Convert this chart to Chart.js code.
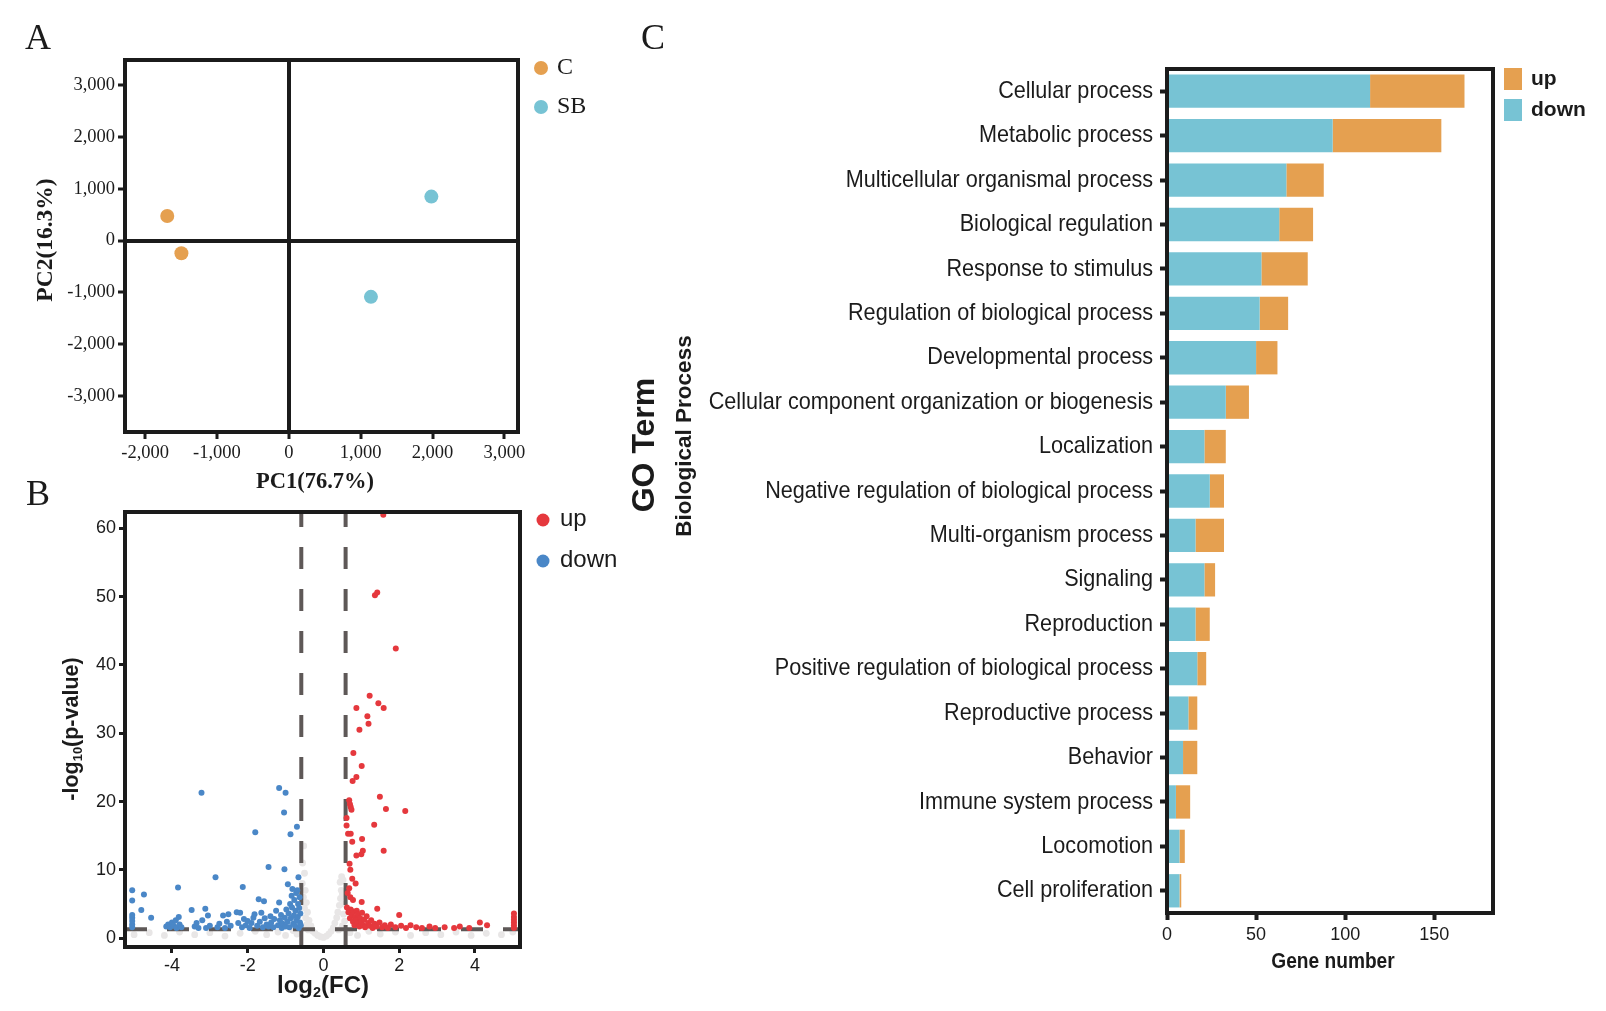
<!DOCTYPE html>
<html>
<head>
<meta charset="utf-8">
<title>PCA, volcano plot and GO terms</title>
<script src="https://cdn.jsdelivr.net/npm/chart.js@4.4.1/dist/chart.umd.min.js"></script>
<style>
  html, body { margin: 0; padding: 0; background: #fff; }
  #wrap { position: relative; width: 1606px; height: 1011px; }
  #wrap canvas { position: absolute; left: 0; top: 0; }
</style>
</head>
<body>
<div id="wrap">
  <canvas id="pcaChart" width="1606" height="1011"></canvas>
  <canvas id="volcanoChart" width="1606" height="1011"></canvas>
  <canvas id="goChart" width="1606" height="1011"></canvas>
</div>
<script>
// ---------- A: PCA ----------
const pcaGroups = ['C', 'SB'];
const pcaC = [[-1692, 476], [-1495, -245]];
const pcaSB = [[1984, 850], [1143, -1088]];
const pcaXTicks = [-2000, -1000, 0, 1000, 2000, 3000];
const pcaYTicks = [-3000, -2000, -1000, 0, 1000, 2000, 3000];

// ---------- B: volcano ----------
const volcanoGroups = ['up', 'down'];
const upPoints = [
  [1.58, 62.0], [1.36, 50.2], [1.42, 50.6], [1.91, 42.4], [1.22, 35.5], [0.87, 33.7], [1.45, 34.4],
  [1.59, 33.7], [1.16, 32.5], [1.19, 31.4], [0.95, 30.5], [0.79, 27.1], [1.01, 25.2], [0.87, 23.6],
  [0.77, 23.0], [1.49, 20.7], [0.68, 20.2], [0.70, 19.6], [0.72, 19.2], [0.74, 18.8], [1.65, 18.9],
  [2.16, 18.6], [0.61, 17.6], [1.34, 16.6], [0.61, 16.5], [0.65, 15.3], [0.72, 15.3], [1.02, 14.5],
  [0.76, 14.1], [1.59, 12.8], [1.04, 12.8], [1.00, 12.3], [0.87, 12.1], [0.69, 10.9], [0.71, 10.0],
  [0.76, 8.7], [0.85, 8.0], [0.68, 7.3], [0.64, 6.6], [0.71, 6.0], [0.78, 5.6], [1.01, 5.3],
  [1.42, 4.3], [2.00, 3.4], [0.62, 4.5], [0.66, 3.8], [0.70, 2.9], [0.72, 4.2], [0.75, 3.4],
  [0.78, 2.4], [0.80, 3.9], [0.82, 1.9], [0.84, 3.1], [0.86, 2.6], [0.88, 4.0], [0.90, 2.2],
  [0.92, 3.5], [0.95, 1.7], [0.97, 2.9], [1.00, 2.4], [1.02, 3.7], [1.05, 1.9], [1.08, 2.7],
  [1.10, 1.6], [1.14, 3.2], [1.18, 2.2], [1.22, 1.8], [1.26, 2.6], [1.30, 1.5], [1.35, 2.1],
  [1.40, 1.7], [1.48, 2.3], [1.55, 1.6], [1.62, 1.9], [1.70, 1.5], [1.78, 2.0], [1.90, 1.6],
  [2.05, 1.8], [2.18, 1.5], [2.30, 1.9], [2.45, 1.6], [2.60, 1.5], [2.80, 1.7], [2.95, 1.5],
  [3.20, 1.6], [3.45, 1.5], [3.60, 1.7], [3.85, 1.5], [4.13, 2.3], [4.32, 1.9],
  [5.03, 1.5], [5.03, 1.9], [5.03, 2.3], [5.03, 2.7], [5.03, 3.1], [5.03, 3.6]
];
const downPoints = [
  [-5.05, 1.6], [-5.05, 2.0], [-5.05, 2.5], [-5.05, 3.0], [-5.05, 3.4], [-5.05, 5.5], [-5.05, 7.0],
  [-4.74, 6.4], [-4.81, 4.1], [-4.55, 3.0],
  [-4.15, 1.7], [-4.10, 2.0], [-4.05, 1.6], [-4.00, 2.3], [-3.95, 1.8], [-3.90, 2.6], [-3.88, 1.5],
  [-3.84, 7.4], [-3.82, 3.1], [-3.80, 2.0], [-3.75, 1.6],
  [-3.48, 4.1], [-3.40, 1.7], [-3.35, 2.2], [-3.30, 1.5], [-3.22, 21.3], [-3.20, 2.6], [-3.12, 4.3],
  [-3.05, 3.3], [-3.00, 1.8], [-3.10, 1.5],
  [-2.85, 8.9], [-2.80, 1.6], [-2.75, 2.1], [-2.65, 3.3], [-2.60, 1.5], [-2.55, 2.4], [-2.51, 3.5],
  [-2.45, 1.8], [-2.29, 3.8], [-2.20, 3.7], [-2.25, 2.2], [-2.15, 1.6], [-2.13, 7.5], [-2.10, 2.8],
  [-2.05, 1.9], [-2.00, 2.5],
  [-1.95, 1.5], [-1.90, 2.2], [-1.85, 3.0], [-1.82, 3.5], [-1.80, 15.5], [-1.75, 1.8], [-1.71, 5.7],
  [-1.68, 2.4], [-1.64, 3.7], [-1.60, 1.6], [-1.57, 5.4], [-1.55, 2.9], [-1.50, 2.0],
  [-1.45, 10.4], [-1.45, 1.7], [-1.40, 3.2], [-1.38, 2.3], [-1.32, 1.6], [-1.30, 2.8], [-1.25, 4.0],
  [-1.20, 1.9], [-1.17, 22.0], [-1.17, 5.2], [-1.15, 2.6], [-1.12, 3.4], [-1.10, 1.5], [-1.08, 2.1],
  [-1.04, 18.4], [-1.03, 10.1], [-1.02, 3.0], [-1.00, 21.3], [-1.00, 1.7],
  [-0.98, 4.2], [-0.95, 2.4], [-0.94, 7.9], [-0.92, 3.6], [-0.90, 1.6], [-0.88, 5.0], [-0.87, 15.2],
  [-0.86, 2.9], [-0.84, 6.2], [-0.83, 4.5], [-0.82, 7.2], [-0.80, 2.1], [-0.78, 3.3], [-0.77, 5.6],
  [-0.75, 1.8], [-0.74, 4.0], [-0.72, 6.6], [-0.71, 2.6], [-0.70, 16.3], [-0.69, 7.0], [-0.68, 3.1],
  [-0.67, 5.0], [-0.66, 8.9], [-0.65, 1.5], [-0.64, 4.4], [-0.63, 6.0], [-0.62, 2.3], [-0.61, 3.6],
  [-0.60, 1.9]
];
const nsPoints = [
  [-0.52, 13.5], [-0.55, 11.0], [-0.50, 9.5], [-0.56, 8.0], [-0.48, 7.0], [-0.53, 6.0], [-0.45, 5.2],
  [-0.50, 4.4], [-0.42, 3.8], [-0.47, 3.0], [-0.38, 2.6], [-0.44, 2.0], [-0.33, 1.8], [-0.40, 1.2],
  [-0.28, 1.0], [-0.22, 0.7], [-0.15, 0.4], [-0.08, 0.2], [0.00, 0.1], [0.08, 0.3], [0.14, 0.6],
  [0.20, 1.0], [0.26, 1.5], [0.30, 2.2], [0.35, 3.0], [0.38, 3.8], [0.42, 4.8], [0.45, 5.8],
  [0.47, 7.0], [0.44, 8.2], [0.48, 9.0], [0.52, 8.5], [0.50, 6.5], [0.55, 5.0], [0.53, 3.5],
  [0.56, 2.5], [0.50, 1.8], [0.40, 1.2],
  [-5.00, 0.5], [-4.60, 0.8], [-4.20, 0.4], [-3.80, 0.9], [-3.40, 0.5], [-3.00, 0.8], [-2.60, 0.3],
  [-2.20, 0.7], [-1.80, 1.0], [-1.50, 0.5], [-1.20, 0.9], [-1.00, 0.4], [-0.80, 1.1], [-0.70, 0.6],
  [0.70, 0.8], [0.90, 0.4], [1.20, 1.0], [1.50, 0.6], [1.90, 0.9], [2.30, 0.4], [2.70, 0.8],
  [3.10, 0.5], [3.50, 0.9], [3.90, 0.4], [4.30, 0.7], [4.70, 0.5], [5.00, 0.9]
];
const fcCut = [-0.585, 0.585];
const pCut = 1.301;
const volcanoXTicks = [-4, -2, 0, 2, 4];
const volcanoYTicks = [0, 10, 20, 30, 40, 50, 60];

// ---------- C: GO terms ----------
const goTerms = [
  'Cellular process', 'Metabolic process', 'Multicellular organismal process', 'Biological regulation',
  'Response to stimulus', 'Regulation of biological process', 'Developmental process',
  'Cellular component organization or biogenesis', 'Localization', 'Negative regulation of biological process',
  'Multi-organism process', 'Signaling', 'Reproduction', 'Positive regulation of biological process',
  'Reproductive process', 'Behavior', 'Immune system process', 'Locomotion', 'Cell proliferation'
];
const goDown = [114, 93, 67, 63, 53, 52, 50, 33, 21, 24, 16, 21, 16, 17, 12, 9, 5, 7, 7];
const goUp = [53, 61, 21, 19, 26, 16, 12, 13, 12, 8, 16, 6, 8, 5, 5, 8, 8, 3, 1];
const goXTicks = [0, 50, 100, 150];

// ---------- styling ----------
const INK = '#1b1b1b';
const SERIF = "'Liberation Serif', 'Times New Roman', serif";
const SANS = "'Liberation Sans', Arial, sans-serif";
const ORANGE = '#E5A050';
const CYAN = '#77C3D4';
const RED = '#E5383D';
const BLUE = '#4A87C7';

Chart.defaults.color = INK;

function toXY(pairs) {
  return pairs.map(p => ({ x: p[0], y: p[1] }));
}

function fixedTicks(values) {
  return scale => { scale.ticks = values.map(v => ({ value: v })); };
}

function frame(ctx, area, width) {
  ctx.strokeStyle = INK;
  ctx.lineWidth = width;
  ctx.strokeRect(area.left, area.top, area.right - area.left, area.bottom - area.top);
}

// squeeze < 1 gives the narrow look of the original labels
function label(ctx, str, x, y, font, align, rotate, squeeze) {
  ctx.save();
  ctx.font = font;
  ctx.fillStyle = INK;
  ctx.textAlign = align || 'center';
  ctx.textBaseline = 'middle';
  ctx.translate(x, y);
  if (rotate) ctx.rotate(-Math.PI / 2);
  if (squeeze) ctx.scale(squeeze, 1);
  ctx.fillText(str, 0, 0);
  ctx.restore();
}

// text with a subscript part, e.g. log10
function subLabel(ctx, parts, x, y, size, rotate) {
  ctx.save();
  ctx.fillStyle = INK;
  ctx.textBaseline = 'middle';
  ctx.textAlign = 'left';
  ctx.translate(x, y);
  if (rotate) ctx.rotate(-Math.PI / 2);
  let total = 0;
  parts.forEach(p => {
    ctx.font = 'bold ' + (p.sub ? size * 0.6 : size) + 'px ' + SANS;
    total += ctx.measureText(p.t).width;
  });
  let cx = -total / 2;
  parts.forEach(p => {
    ctx.font = 'bold ' + (p.sub ? size * 0.6 : size) + 'px ' + SANS;
    ctx.fillText(p.t, cx, p.sub ? size * 0.28 : 0);
    cx += ctx.measureText(p.t).width;
  });
  ctx.restore();
}

function dot(ctx, x, y, r, color) {
  ctx.beginPath();
  ctx.arc(x, y, r, 0, Math.PI * 2);
  ctx.fillStyle = color;
  ctx.fill();
}

const baseOptions = {
  responsive: false,
  animation: false,
  devicePixelRatio: 1,
  plugins: { legend: { display: false }, tooltip: { enabled: false } }
};

// ---------- A ----------
new Chart(document.getElementById('pcaChart'), {
  type: 'scatter',
  data: {
    datasets: [
      { label: pcaGroups[0], data: toXY(pcaC), backgroundColor: ORANGE, pointRadius: 7, pointBorderWidth: 0 },
      { label: pcaGroups[1], data: toXY(pcaSB), backgroundColor: CYAN, pointRadius: 7, pointBorderWidth: 0 }
    ]
  },
  options: Object.assign({}, baseOptions, {
    layout: { padding: { left: 65, top: 60, right: 1088, bottom: 539 } },
    scales: {
      x: {
        min: -2280, max: 3190,
        afterBuildTicks: fixedTicks(pcaXTicks),
        afterFit: s => { s.height = 40; },
        border: { display: false },
        grid: {
          color: c => (c.tick && c.tick.value === 0 ? INK : 'rgba(0,0,0,0)'),
          lineWidth: 4, tickColor: INK, tickWidth: 3, tickLength: 7
        },
        ticks: { font: { family: SERIF, size: 18.5 }, padding: 3, maxRotation: 0, autoSkip: false,
                 callback: v => v.toLocaleString('en-US') }
      },
      y: {
        min: -3700, max: 3490,
        afterBuildTicks: fixedTicks(pcaYTicks),
        afterFit: s => { s.width = 60; },
        border: { display: false },
        grid: {
          color: c => (c.tick && c.tick.value === 0 ? INK : 'rgba(0,0,0,0)'),
          lineWidth: 4, tickColor: INK, tickWidth: 3, tickLength: 7
        },
        ticks: { font: { family: SERIF, size: 18.5 }, padding: 3, autoSkip: false,
                 callback: v => v.toLocaleString('en-US') }
      }
    }
  }),
  plugins: [{
    id: 'pcaDeco',
    afterDraw(chart) {
      const ctx = chart.ctx;
      frame(ctx, chart.chartArea, 4);
      label(ctx, 'A', 38, 40, '36px ' + SERIF);
      label(ctx, 'PC1(76.7%)', 315, 482, 'bold 22.5px ' + SERIF);
      label(ctx, 'PC2(16.3%)', 46, 240, 'bold 23.5px ' + SERIF, 'center', true);
      dot(ctx, 541, 68, 7, ORANGE);
      dot(ctx, 541, 107, 7, CYAN);
      label(ctx, pcaGroups[0], 557, 68, '24px ' + SERIF, 'left');
      label(ctx, pcaGroups[1], 557, 107, '24px ' + SERIF, 'left');
    }
  }]
});

// ---------- B ----------
const cutLine = {
  type: 'line', showLine: true, pointRadius: 0, borderColor: '#5e5857', borderWidth: 4,
  borderDash: [22, 20], fill: false, order: 2
};

new Chart(document.getElementById('volcanoChart'), {
  type: 'scatter',
  data: {
    datasets: [
      { label: 'ns', data: toXY(nsPoints), backgroundColor: '#e8e6e6', pointRadius: 3.4, pointBorderWidth: 0, order: 3 },
      Object.assign({}, cutLine, { data: [{ x: fcCut[0], y: -1.3 }, { x: fcCut[0], y: 62.4 }] }),
      Object.assign({}, cutLine, { data: [{ x: fcCut[1], y: -1.3 }, { x: fcCut[1], y: 62.4 }] }),
      Object.assign({}, cutLine, { data: [{ x: -5.24, y: pCut }, { x: 5.19, y: pCut }] }),
      { label: volcanoGroups[1], data: toXY(downPoints), backgroundColor: BLUE, pointRadius: 3, pointBorderWidth: 0, order: 1 },
      { label: volcanoGroups[0], data: toXY(upPoints), backgroundColor: RED, pointRadius: 3, pointBorderWidth: 0, order: 1 }
    ]
  },
  options: Object.assign({}, baseOptions, {
    layout: { padding: { left: 75, top: 512, right: 1086, bottom: 24 } },
    scales: {
      x: {
        type: 'linear', min: -5.24, max: 5.19,
        afterBuildTicks: fixedTicks(volcanoXTicks),
        afterFit: s => { s.height = 40; },
        border: { display: false },
        grid: { drawOnChartArea: false, tickColor: INK, tickWidth: 3, tickLength: 6 },
        ticks: { font: { family: SANS, size: 18 }, padding: 2, maxRotation: 0, autoSkip: false }
      },
      y: {
        min: -1.3, max: 62.4,
        afterBuildTicks: fixedTicks(volcanoYTicks),
        afterFit: s => { s.width = 50; },
        border: { display: false },
        grid: { drawOnChartArea: false, tickColor: INK, tickWidth: 3, tickLength: 6 },
        ticks: { font: { family: SANS, size: 18 }, padding: 3, autoSkip: false }
      }
    }
  }),
  plugins: [{
    id: 'volcanoDeco',
    afterDraw(chart) {
      const ctx = chart.ctx;
      frame(ctx, chart.chartArea, 4);
      label(ctx, 'B', 38, 496, '36px ' + SERIF);
      subLabel(ctx, [{ t: 'log' }, { t: '2', sub: true }, { t: '(FC)' }], 323, 986, 24, false);
      subLabel(ctx, [{ t: '-log' }, { t: '10', sub: true }, { t: '(p-value)' }], 72, 729, 21.5, true);
      dot(ctx, 543, 520, 6.5, RED);
      dot(ctx, 543, 561, 6.5, BLUE);
      label(ctx, volcanoGroups[0], 560, 519, '24px ' + SANS, 'left');
      label(ctx, volcanoGroups[1], 560, 560, '24px ' + SANS, 'left');
    }
  }]
});

// ---------- C ----------
new Chart(document.getElementById('goChart'), {
  type: 'bar',
  data: {
    labels: goTerms,
    datasets: [
      { label: 'down', data: goDown, backgroundColor: CYAN },
      { label: 'up', data: goUp, backgroundColor: ORANGE }
    ]
  },
  options: Object.assign({}, baseOptions, {
    indexAxis: 'y',
    categoryPercentage: 1,
    barPercentage: 0.75,
    layout: { padding: { left: 647, top: 69, right: 113, bottom: 58 } },
    scales: {
      x: {
        stacked: true, min: 0, max: 183,
        afterBuildTicks: fixedTicks(goXTicks),
        afterFit: s => { s.height = 40; },
        border: { display: false },
        grid: { drawOnChartArea: false, tickColor: INK, tickWidth: 4, tickLength: 7 },
        ticks: { font: { family: SANS, size: 18 }, padding: 4, maxRotation: 0, autoSkip: false }
      },
      y: {
        stacked: true,
        afterFit: s => { s.width = 520; },
        border: { display: false },
        grid: { offset: false, drawOnChartArea: false, tickColor: INK, tickWidth: 4, tickLength: 7 },
        ticks: { display: false }
      }
    }
  }),
  plugins: [{
    id: 'goDeco',
    afterDraw(chart) {
      const ctx = chart.ctx;
      const yScale = chart.scales.y;
      frame(ctx, chart.chartArea, 4);
      // category names, drawn narrow like the original
      goTerms.forEach((t, i) => {
        label(ctx, t, yScale.left + yScale.width - 14, yScale.getPixelForValue(i), '24px ' + SANS, 'right', false, 0.9);
      });
      label(ctx, 'C', 653, 40, '36px ' + SERIF);
      label(ctx, 'Gene number', 1333, 962, 'bold 22px ' + SANS, 'center', false, 0.87);
      label(ctx, 'GO Term', 645, 445, 'bold 32px ' + SANS, 'center', true);
      label(ctx, 'Biological Process', 685, 436, 'bold 22.5px ' + SANS, 'center', true);
      ctx.fillStyle = ORANGE;
      ctx.fillRect(1504, 68, 18, 22);
      ctx.fillStyle = CYAN;
      ctx.fillRect(1504, 99, 18, 22);
      label(ctx, 'up', 1531, 79, 'bold 21px ' + SANS, 'left');
      label(ctx, 'down', 1531, 110, 'bold 21px ' + SANS, 'left');
    }
  }]
});
</script>
</body>
</html>
